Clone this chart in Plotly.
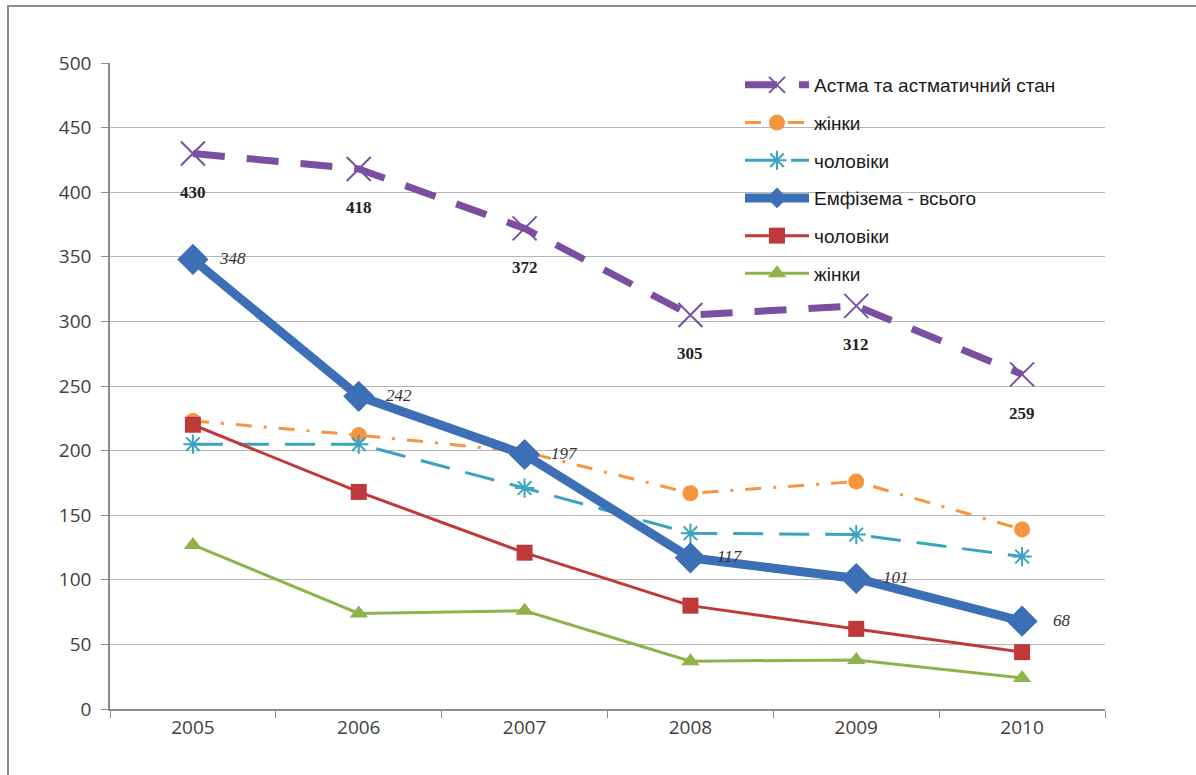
import plotly.graph_objects as go

years = ["2005", "2006", "2007", "2008", "2009", "2010"]
asthma = [430, 418, 372, 305, 312, 259]
asthma_women = [223, 212, 199, 167, 176, 139]
asthma_men = [205, 205, 171, 136, 135, 118]
emph_total = [348, 242, 197, 117, 101, 68]
emph_men = [220, 168, 121, 80, 62, 44]
emph_women = [127, 74, 76, 37, 38, 24]

names = ["Астма та астматичний стан", "жінки", "чоловіки",
         "Емфізема - всього", "чоловіки", "жінки"]

W, H = 1196, 775
L, R, T, B = 110, 91, 63, 66

fig = go.Figure()

series = [
    (asthma, names[0], dict(color="#7b4fa0", width=7, dash="32px,22px"),
     dict(symbol="x-thin", size=24, line=dict(color="#7b4fa0", width=2), color="#7b4fa0")),
    (asthma_women, names[1], dict(color="#f7943f", width=3, dash="16px,12px,3px,12px"),
     dict(symbol="circle", size=16, color="#f7943f")),
    (asthma_men, names[2], dict(color="#3ba3bd", width=3, dash="30px,16px"),
     dict(symbol="asterisk-open", size=16, line=dict(color="#3ba3bd", width=2), color="#3ba3bd")),
    (emph_total, names[3], dict(color="#3c6fb6", width=9),
     dict(symbol="diamond", size=24, color="#3c6fb6")),
    (emph_men, names[4], dict(color="#c0393a", width=3),
     dict(symbol="square", size=16, color="#c0393a")),
    (emph_women, names[5], dict(color="#8db34a", width=3),
     dict(symbol="triangle-up", size=16, color="#8db34a")),
]

for i, (vals, nm, ln, mk) in enumerate(series):
    fig.add_trace(go.Scatter(x=years, y=vals, name=nm, mode="lines+markers",
                             line=ln, marker=mk, legendgroup="g%d" % i))

# data labels (category index positions)
for i, v in enumerate(asthma):
    fig.add_annotation(x=i, y=v, xref="x", yref="y", text="<b>%d</b>" % v, showarrow=False,
                       yshift=-39,
                       font=dict(family="Liberation Serif", size=17, color="#222222"))
for i, v in enumerate(emph_total):
    fig.add_annotation(x=i, y=v, xref="x", yref="y", text="<i>%d</i>" % v, showarrow=False,
                       xshift=40, yshift=1,
                       font=dict(family="Liberation Serif", size=17, color="#333333"))

# outer frame
fig.add_shape(type="rect", xref="paper", yref="paper",
              x0=(8 - L) / (W - L - R), x1=(1205 - L) / (W - L - R),
              y0=(H - B - 790) / (H - T - B), y1=(H - B - 6) / (H - T - B),
              line=dict(color="#8c8c8c", width=2), fillcolor="rgba(0,0,0,0)", layer="below")

fig.update_layout(
    width=W, height=H,
    margin=dict(l=L, r=R, t=T, b=B),
    paper_bgcolor="white", plot_bgcolor="white",
    font=dict(family="Open Sans", size=16, color="#404040"),
    showlegend=True,
    legend=dict(x=(740 - L) / (W - L - R), y=(H - B - 66) / (H - T - B),
                xanchor="left", yanchor="top", bgcolor="rgba(0,0,0,0)",
                font=dict(family="Liberation Sans", size=19, color="#1a1a1a"),
                itemwidth=64, tracegroupgap=10, traceorder="grouped"),
)

fig.update_xaxes(type="category", range=[-0.5, 5.5], showline=True, linecolor="#8c8c8c",
                 linewidth=1.5, ticks="outside", tickson="boundaries", ticklen=7,
                 tickcolor="#8c8c8c", showgrid=False, zeroline=False,
                 tickfont=dict(size=19, color="#404040"))
fig.update_yaxes(range=[0, 500], dtick=50, showline=True, linecolor="#8c8c8c",
                 linewidth=1.5, ticks="outside", ticklen=7, tickcolor="#8c8c8c",
                 showgrid=True, gridcolor="#b4b4b4", gridwidth=1.2, zeroline=False,
                 tickfont=dict(size=19, color="#404040"), ticklabelstandoff=6)

fig.write_html("out.html")
